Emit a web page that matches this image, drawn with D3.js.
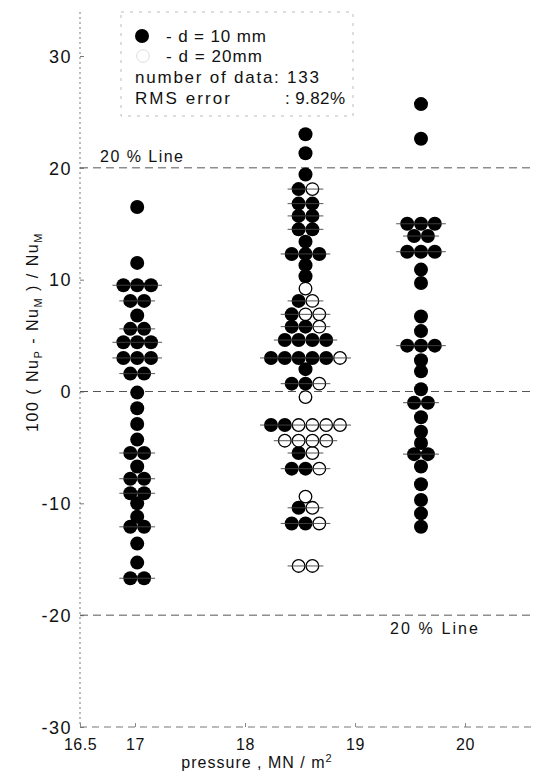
<html>
<head>
<script src="https://cdn.jsdelivr.net/npm/d3@7"></script>
<style>
  body { margin: 0; background: #fff; }
  text { font-family: "Liberation Sans", Arial, sans-serif; fill: #111; }
</style>
</head>
<body>
<script>
// pressure of each measured column (MN/m2)
var pressures = [17.02, 18.55, 19.6];

// 100 (Nu_P - Nu_M) / Nu_M, d = 10 mm (filled) and d = 20 mm (open)
var p17Filled = [16.5, 11.5, 9.5, 9.5, 9.5, 8.1, 8.1, 6.8, 5.6, 5.6, 4.4, 4.4, 4.4, 3.0, 3.0, 3.0, 1.6, 1.6,
  -0.1, -1.5, -2.9, -4.3, -5.5, -5.5, -6.7, -7.8, -7.8, -9.1, -9.1, -10.0, -11.2, -12.1, -12.1, -13.6, -15.3, -16.7, -16.7];
var p17Open = [];
var p18Filled = [23.0, 21.3, 19.4, 18.1, 16.8, 16.8, 15.7, 15.7, 14.5, 14.5, 13.4, 12.3, 12.3, 12.3, 11.3, 10.3,
  8.1, 6.9, 5.8, 5.8, 4.6, 4.6, 4.6, 4.6, 3.0, 3.0, 3.0, 3.0, 3.0, 2.0, 0.7, 0.7,
  -3.0, -3.0, -5.5, -6.9, -6.9, -10.4, -11.8, -11.8];
var p18Open = [18.1, 9.2, 8.1, 6.9, 6.9, 5.8, 3.0, 0.7, -0.5, -3.0, -3.0, -3.0, -3.0, -4.4, -4.4, -4.4, -4.4,
  -5.5, -6.9, -9.4, -10.4, -11.8, -15.6, -15.6];
var p19Filled = [25.7, 22.6, 15.0, 15.0, 15.0, 13.9, 13.9, 12.5, 12.5, 12.5, 10.9, 9.7, 6.7, 5.4, 4.1, 4.1, 4.1,
  2.8, 1.8, 0.2, -1.0, -1.0, -2.3, -3.6, -4.6, -5.6, -5.6, -6.7, -8.3, -9.7, -10.9, -12.1];
var p19Open = [];

var xTicks = [16.5, 17, 18, 19, 20];
var yTicks = [-30, -20, -10, 0, 10, 20, 30];
var limitLines = [20, 0, -20];
var legendLines = ["- d = 10 mm", "- d = 20mm", "number of data: 133", "RMS error", ": 9.82%"];

var w = 538, h = 772;
var r = 7, step = 13.8;

var x = d3.scaleLinear().domain([16.5, 20.6]).range([80, 531]);
var y = d3.scaleLinear().domain([-30, 30]).range([727, 56]);

var svg = d3.select("body").append("svg").attr("width", w).attr("height", h);

// build rows: points sharing a value in one column sit side by side
var columns = [[p17Filled, p17Open], [p18Filled, p18Open], [p19Filled, p19Open]];
var rows = [];
columns.forEach(function(c, i) {
  var pts = c[0].map(function(v){ return {v: v, open: false}; })
    .concat(c[1].map(function(v){ return {v: v, open: true}; }));
  var g = d3.group(pts, function(d){ return d.v; });
  g.forEach(function(list, v) {
    rows.push({p: pressures[i], v: v, pts: list});
  });
});
var dots = [];
rows.forEach(function(row) {
  var n = row.pts.length;
  row.pts.forEach(function(d, k) {
    dots.push({p: row.p, v: row.v, off: (k - (n - 1) / 2) * step, open: d.open});
  });
});

// axes
svg.append("line").attr("x1", x(16.5)).attr("x2", x(16.5)).attr("y1", 12).attr("y2", y(-30))
  .attr("stroke", "#777").attr("stroke-width", 1).attr("stroke-dasharray", "2,3");
svg.append("line").attr("x1", x(16.5)).attr("x2", 532).attr("y1", y(-30)).attr("y2", y(-30))
  .attr("stroke", "#777").attr("stroke-width", 1).attr("stroke-dasharray", "7,5");

var yAxis = d3.axisLeft(y).tickValues(yTicks).tickSizeInner(-4).tickSizeOuter(0).tickPadding(8)
  .tickFormat(function(d){ return d < 0 ? "-" + Math.abs(d) : d; });
var gy = svg.append("g").attr("transform", "translate(" + x(16.5) + ",0)").call(yAxis);
gy.select(".domain").remove();
gy.selectAll(".tick line").attr("stroke", "#777");
gy.selectAll("text").style("font-size", "18px").style("letter-spacing", "1.5px").attr("dy", "0.35em");

var xAxis = d3.axisBottom(x).tickValues(xTicks).tickSizeInner(-4).tickSizeOuter(0).tickPadding(12)
  .tickFormat(function(d){ return d; });
var gx = svg.append("g").attr("transform", "translate(0," + y(-30) + ")").call(xAxis);
gx.select(".domain").remove();
gx.selectAll(".tick line").attr("stroke", "#888");
gx.selectAll("text").style("font-size", "16px").style("letter-spacing", "0.5px");

// 20% and zero lines
svg.selectAll(".limit").data(limitLines).enter().append("line").attr("class", "limit")
  .attr("x1", x(16.5)).attr("x2", 532)
  .attr("y1", function(d){ return y(d); }).attr("y2", function(d){ return y(d); })
  .attr("stroke", "#555").attr("stroke-width", 1).attr("stroke-dasharray", "8,5");
svg.append("text").attr("x", 100).attr("y", y(20) - 6).style("font-size", "16px")
  .attr("textLength", 83).attr("lengthAdjust", "spacing").text("20 % Line");
svg.append("text").attr("x", 390).attr("y", y(-20) + 19).style("font-size", "16px")
  .attr("textLength", 88).attr("lengthAdjust", "spacing").text("20 % Line");

// dots
svg.selectAll(".dot").data(dots).enter().append("circle").attr("class", "dot")
  .attr("cx", function(d){ return x(d.p) + d.off; })
  .attr("cy", function(d){ return y(d.v); })
  .attr("r", function(d){ return d.open ? r - 0.7 : r; })
  .attr("fill", function(d){ return d.open ? "#fff" : "#000"; })
  .attr("stroke", "#000").attr("stroke-width", function(d){ return d.open ? 1.3 : 0; });

// short strokes through each row
svg.selectAll(".row").data(rows.filter(function(d){ return d.pts.length > 1; })).enter().append("line")
  .attr("class", "row")
  .attr("x1", function(d){ return x(d.p) - (d.pts.length - 1) / 2 * step - r - 4; })
  .attr("x2", function(d){ return x(d.p) + (d.pts.length - 1) / 2 * step + r + 4; })
  .attr("y1", function(d){ return y(d.v); }).attr("y2", function(d){ return y(d.v); })
  .attr("stroke", "#444").attr("stroke-width", 0.9);

// legend
svg.append("rect").attr("x", 121).attr("y", 12).attr("width", 232).attr("height", 104)
  .attr("fill", "none").attr("stroke", "#aaa").attr("stroke-width", 0.8).attr("stroke-dasharray", "3,6");
svg.append("circle").attr("cx", 142).attr("cy", 36).attr("r", r).attr("fill", "#000");
svg.append("circle").attr("cx", 143).attr("cy", 56).attr("r", r - 0.7).attr("fill", "none")
  .attr("stroke", "#ddd").attr("stroke-width", 1);
var legendPos = [[166, 42, 100], [166, 62, 96], [135, 83, 184], [135, 104, 95], [285, 104, 60]];
svg.selectAll(".legtext").data(legendLines).enter().append("text").attr("class", "legtext")
  .attr("x", function(d, i){ return legendPos[i][0]; })
  .attr("y", function(d, i){ return legendPos[i][1]; })
  .attr("textLength", function(d, i){ return legendPos[i][2]; })
  .attr("lengthAdjust", "spacing")
  .style("font-size", "17px")
  .text(function(d){ return d; });

// axis titles
var yl = svg.append("text").attr("transform", "translate(38,332) rotate(-90)")
  .attr("text-anchor", "middle").style("font-size", "16px").style("letter-spacing", "1.5px");
yl.append("tspan").text("100 ( Nu");
yl.append("tspan").attr("dy", 4).style("font-size", "11px").text("P");
yl.append("tspan").attr("dy", -4).text(" - Nu");
yl.append("tspan").attr("dy", 4).style("font-size", "11px").text("M");
yl.append("tspan").attr("dy", -4).text(" ) / Nu");
yl.append("tspan").attr("dy", 4).style("font-size", "11px").text("M");

var xl = svg.append("text").attr("x", 257).attr("y", 768).attr("text-anchor", "middle")
  .style("font-size", "16px").style("letter-spacing", "1px");
xl.append("tspan").text("pressure , MN / m");
xl.append("tspan").attr("dy", -6).style("font-size", "11px").text("2");
</script>
</body>
</html>
